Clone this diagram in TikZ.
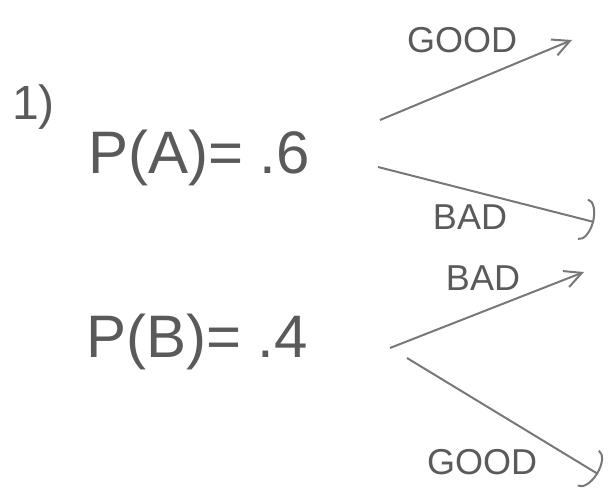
\documentclass[tikz,border=0pt]{standalone}
\usepackage{fontspec}
\setmainfont{Liberation Sans}
\usetikzlibrary{arrows.meta}
\definecolor{pencil}{RGB}{90,90,90}
\definecolor{lead}{RGB}{120,120,120}
\tikzset{
  prob/.style ={text=pencil, font=\fontsize{60}{60}\selectfont, inner sep=0pt, anchor=west},
  tag/.style ={text=pencil, font=\fontsize{36}{36}\selectfont, inner sep=0pt},
  branchup/.style ={-{Straight Barb[length=6mm, width=6mm]}, draw=lead, line width=2pt},
  branchdown/.style ={-{Arc Barb[length=4mm, width=15mm]}, draw=lead, line width=2pt},
}

\begin{document}
\begin{tikzpicture}[x=1pt, y=-1pt]
\useasboundingbox (0,0) rectangle (611,498);
\node[prob, font=\fontsize{48}{48}\selectfont] (num) at (12,107) {1)};
\node[prob] (pA) at (88,158) {P(A)= .6};
\node[prob] (pB) at (86,342) {P(B)= .4};
% branch ends
\coordinate (aGoodS) at (380,120);
\coordinate (aGoodE) at (572,40);
\coordinate (aBadS) at (378,167);
\coordinate (aBadE) at (594,222);
\coordinate (bBadS) at (390,348);
\coordinate (bBadE) at (584,272);
\coordinate (bGoodS) at (407,358);
\coordinate (bGoodE) at (598,474);
\node[tag] (aGood) at (462,40) {GOOD};
\node[tag] (aBad) at (470,217) {BAD};
\node[tag] (bBad) at (483,278) {BAD};
\node[tag] (bGood) at (482,462) {GOOD};
\foreach \x/\y in {aGoodS/aGoodE,bBadS/bBadE} \draw[branchup] (\x) -- (\y);
\foreach \x/\y in {aBadS/aBadE,bGoodS/bGoodE} \draw[branchdown] (\x) -- (\y);
\end{tikzpicture}
\end{document}
